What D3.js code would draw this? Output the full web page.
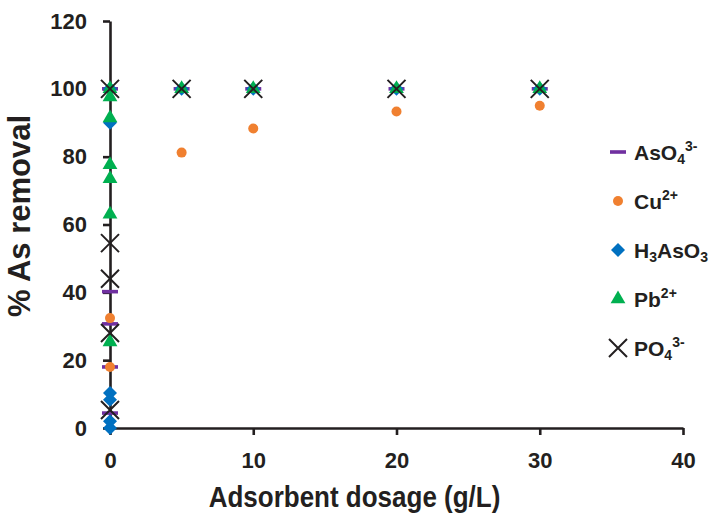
<!DOCTYPE html>
<html>
<head>
<meta charset="utf-8">
<script src="https://cdn.jsdelivr.net/npm/d3@7"></script>
<style>
  html, body { margin: 0; padding: 0; background: #fff; }
  svg text { font-family: "Liberation Sans", Arial, sans-serif; font-weight: bold; fill: #231f20; }
</style>
</head>
<body>
<svg id="chart" width="709" height="513"></svg>
<script>
// Arsenic removal vs adsorbent dosage, with competing ions
const xTicks = [0, 10, 20, 30, 40];
const yTicks = [0, 20, 40, 60, 80, 100, 120];

const asO4X = [0, 0, 0, 0, 0, 5, 10, 20, 30];
const asO4Y = [4.4, 18, 30.7, 40.2, 100, 100, 100, 100, 100];

const cuX = [0, 0, 5, 10, 20, 30];
const cuY = [18, 32.4, 81.2, 88.3, 93.3, 95];

const h3asO3X = [0, 0, 0, 0, 0, 0, 5, 10, 20, 30];
const h3asO3Y = [0, 2, 8.3, 10.3, 90, 100, 100, 100, 100, 100];

const pbX = [0, 0, 0, 0, 0, 0, 0, 5, 10, 20, 30];
const pbY = [25.4, 63, 73.5, 77.6, 91.4, 97.6, 100, 100, 100, 100, 100];

const po4X = [0, 0, 0, 0, 0, 5, 10, 20, 30];
const po4Y = [5.3, 28, 44, 54.5, 100, 100, 100, 100, 100];

const seriesNames = ["AsO4", "Cu", "H3AsO3", "Pb", "PO4"];

const colors = {
  AsO4: "#7030a0",
  Cu: "#f08030",
  H3AsO3: "#0070c0",
  Pb: "#00b050",
  PO4: "#231f20"
};

const svg = d3.select("#chart");
const x = d3.scaleLinear().domain([0, 40]).range([110, 683]);
const y = d3.scaleLinear().domain([0, 120]).range([428, 21]);

// axes
const xAxis = svg.append("g")
  .attr("transform", `translate(0,${y(0)})`)
  .call(d3.axisBottom(x).tickValues(xTicks).tickSize(7).tickPadding(17).tickSizeOuter(0));
const yAxis = svg.append("g")
  .attr("transform", `translate(${x(0)},0)`)
  .call(d3.axisLeft(y).tickValues(yTicks).tickSize(7).tickPadding(16).tickSizeOuter(0));

[xAxis, yAxis].forEach(g => {
  g.select(".domain").attr("stroke", "#231f20").attr("stroke-width", 2.6);
  g.selectAll(".tick line").attr("stroke", "#231f20").attr("stroke-width", 2.6);
  g.selectAll(".tick text").style("font-size", "22px").attr("fill", "#231f20");
});

// axis titles
svg.append("text")
  .attr("x", 0).attr("y", 0)
  .attr("text-anchor", "middle")
  .attr("transform", `translate(${(x(0) + x(40)) / 2 - 42},507) scale(1,1.12)`)
  .style("font-size", "26px")
  .text("Adsorbent dosage (g/L)");

svg.append("text")
  .attr("text-anchor", "middle")
  .attr("transform", "translate(30,216) rotate(-90)")
  .style("font-size", "31px")
  .text("%  As removal");

// marker drawing helpers
function drawMarker(g, name, cx, cy) {
  const c = colors[name];
  if (name === "AsO4") {
    g.append("rect").attr("x", cx - 8).attr("y", cy - 1.8)
      .attr("width", 16).attr("height", 3.6).attr("fill", c);
  } else if (name === "Cu") {
    g.append("circle").attr("cx", cx).attr("cy", cy).attr("r", 5).attr("fill", c);
  } else if (name === "H3AsO3") {
    const r = 7;
    g.append("path")
      .attr("d", `M${cx},${cy - r}L${cx + r},${cy}L${cx},${cy + r}L${cx - r},${cy}Z`)
      .attr("fill", c);
  } else if (name === "Pb") {
    g.append("path")
      .attr("transform", `translate(${cx},${cy})`)
      .attr("d", d3.symbol(d3.symbolTriangle, 95)())
      .attr("fill", c);
  } else if (name === "PO4") {
    const r = 9;
    g.append("path")
      .attr("d", `M${cx - r},${cy - r}L${cx + r},${cy + r}M${cx - r},${cy + r}L${cx + r},${cy - r}`)
      .attr("stroke", c).attr("stroke-width", 2).attr("fill", "none");
  }
}

const seriesData = {
  AsO4: [asO4X, asO4Y],
  Cu: [cuX, cuY],
  H3AsO3: [h3asO3X, h3asO3Y],
  Pb: [pbX, pbY],
  PO4: [po4X, po4Y]
};

const plot = svg.append("g");
seriesNames.forEach(name => {
  const [xs, ys] = seriesData[name];
  const g = plot.append("g").attr("class", "series-" + name);
  xs.forEach((xv, i) => drawMarker(g, name, x(xv), y(ys[i])));
});

// legend: text pieces as [string, kind] with kind 0 normal, 1 subscript, 2 superscript
const legendRows = [
  { name: "AsO4", parts: [["AsO", 0], ["4", 1], ["3-", 2]] },
  { name: "Cu", parts: [["Cu", 0], ["2+", 2]] },
  { name: "H3AsO3", parts: [["H", 0], ["3", 1], ["AsO", 0], ["3", 1]] },
  { name: "Pb", parts: [["Pb", 0], ["2+", 2]] },
  { name: "PO4", parts: [["PO", 0], ["4", 1], ["3-", 2]] }
];
const legendY = d3.scalePoint().domain(seriesNames).range([152, 348]);
legendRows.forEach(row => {
  const cy = legendY(row.name);
  const g = svg.append("g");
  drawMarker(g, row.name, 618, cy);
  const t = g.append("text").attr("x", 634).attr("y", cy + 7.5).style("font-size", "21px");
  let prev = 0;
  row.parts.forEach(([s, kind]) => {
    const target = kind === 1 ? 4 : kind === 2 ? -9 : 0;
    const ts = t.append("tspan").text(s).attr("dy", target - prev);
    if (kind !== 0) ts.style("font-size", "14px");
    prev = target;
  });
});
</script>
</body>
</html>
